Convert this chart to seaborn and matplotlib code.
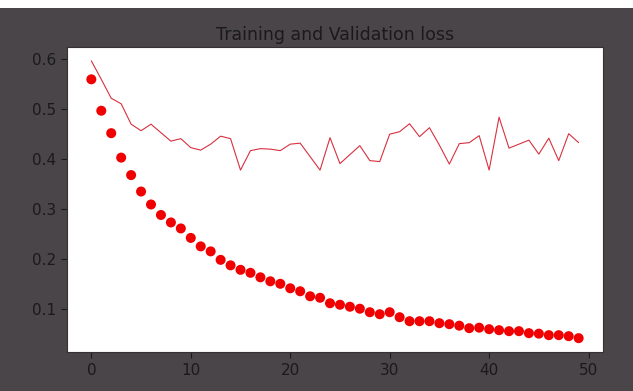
import matplotlib
matplotlib.use("Agg")
import matplotlib.pyplot as plt
import seaborn as sns
import pandas as pd
from matplotlib.patches import Rectangle

epochs = list(range(50))
training_loss = [0.560, 0.497, 0.452, 0.403, 0.368, 0.335, 0.309, 0.288, 0.273, 0.261,
                 0.242, 0.225, 0.215, 0.198, 0.187, 0.178, 0.172, 0.163, 0.155, 0.150,
                 0.141, 0.135, 0.125, 0.122, 0.111, 0.108, 0.104, 0.100, 0.093, 0.089,
                 0.093, 0.083, 0.075, 0.075, 0.075, 0.071, 0.069, 0.066, 0.061, 0.062,
                 0.059, 0.057, 0.055, 0.055, 0.051, 0.050, 0.047, 0.047, 0.045, 0.041]
validation_loss = [0.597, 0.560, 0.522, 0.511, 0.470, 0.457, 0.470, 0.453, 0.436, 0.441,
                   0.423, 0.418, 0.430, 0.446, 0.441, 0.378, 0.417, 0.421, 0.420, 0.417,
                   0.430, 0.432, 0.405, 0.378, 0.443, 0.391, 0.409, 0.427, 0.397, 0.395,
                   0.450, 0.455, 0.471, 0.445, 0.463, 0.428, 0.390, 0.431, 0.433, 0.447,
                   0.378, 0.484, 0.422, 0.430, 0.438, 0.410, 0.442, 0.397, 0.451, 0.433]
title = "Training and Validation loss"

df = pd.DataFrame({"epoch": epochs, "train": training_loss, "val": validation_loss})

sns.set_theme(style="ticks")
plt.rcParams["font.family"] = ["DejaVu Sans"]

bg = "#4a4548"
fig = plt.figure(figsize=(6.33, 3.91), dpi=100, facecolor=bg)
ax = fig.add_axes([0.1058, 0.0997, 0.8468, 0.7801])
ax.set_facecolor("white")

sns.scatterplot(data=df, x="epoch", y="train", ax=ax, color="#f00000",
                s=52, edgecolor="none", linewidth=0, zorder=3)
sns.lineplot(data=df, x="epoch", y="val", ax=ax, color="#d8303f",
             linewidth=0.8, zorder=2)

ax.margins(x=0.05, y=0.05)
ax.set_xticks([0, 10, 20, 30, 40, 50])
ax.set_yticks([0.1, 0.2, 0.3, 0.4, 0.5, 0.6])
ax.set_yticklabels(["0.1", "0.2", "0.3", "0.4", "0.5", "0.6"])
ax.set_xlabel("")
ax.set_ylabel("")
ax.tick_params(colors="#1a1a1a", labelsize=11, length=4.5, width=0.8, labelcolor="#1a1a1a")
for sp in ax.spines.values():
    sp.set_color("#333333")
    sp.set_linewidth(0.8)
ax.set_title(title, fontsize=12.5, color="#1a1a1a", pad=5)

# white strip at the very top of the image
fig.patches.append(Rectangle((0, 1 - 8 / 391), 1, 8 / 391, transform=fig.transFigure,
                             facecolor="white", edgecolor="none", zorder=-1))

fig.savefig("out.png", dpi=100, facecolor=bg)
